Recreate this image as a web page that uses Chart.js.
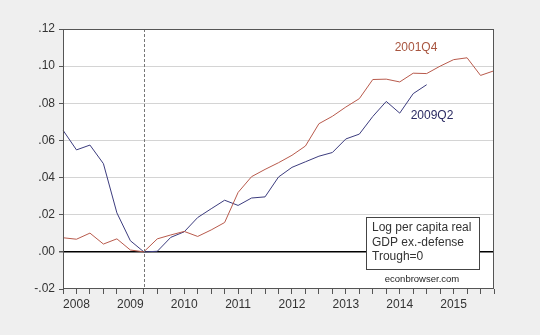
<!DOCTYPE html>
<html>
<head>
<meta charset="utf-8">
<script src="https://cdn.jsdelivr.net/npm/chart.js@4.4.0/dist/chart.umd.min.js"></script>
<style>
  html, body { margin: 0; padding: 0; background: #efefef; }
  #wrap { width: 540px; height: 335px; }
</style>
</head>
<body>
<div id="wrap"><canvas id="myChart" width="540" height="335"></canvas></div>
<script>
// quarters 2007Q4 .. 2015Q4
var quarters = [];
for (var y = 2007; y <= 2015; y++) {
  for (var q = 1; q <= 4; q++) {
    if (y == 2007 && q < 4) continue;
    quarters.push(y + 'Q' + q);
  }
}

// 2001Q4 trough-aligned series (red)
var trough2001 = [0.0076, 0.0068, 0.0101, 0.0042, 0.0070, 0.0010, 0.0000, 0.0070, 0.0091, 0.0110,
                  0.0083, 0.0118, 0.0158, 0.0320, 0.0405, 0.0444, 0.0480, 0.0520, 0.0570, 0.0690,
                  0.0730, 0.0780, 0.0825, 0.0928, 0.0930, 0.0915, 0.0962, 0.0960, 0.1000, 0.1035,
                  0.1045, 0.0950, 0.0975];

// 2009Q2 trough series (blue), ends 2014Q3
var trough2009 = [0.0655, 0.0549, 0.0575, 0.0475, 0.0210, 0.0060, 0.0000, 0.0003, 0.0078, 0.0108,
                  0.0185, 0.0232, 0.0278, 0.0250, 0.0290, 0.0296, 0.0403, 0.0455, 0.0485, 0.0515,
                  0.0535, 0.0608, 0.0634, 0.0729, 0.0810, 0.0747, 0.0852, 0.0900];

var troughQuarter = '2009Q2';
var noteLines = ['Log per capita real', 'GDP ex.-defense', 'Trough=0'];

var frame = {
  id: 'frame',
  beforeDraw: function(chart) {
    var c = chart.ctx, a = chart.chartArea;
    c.save();
    c.fillStyle = '#efefef';
    c.fillRect(0, 0, chart.width, chart.height);
    c.fillStyle = '#ffffff';
    c.fillRect(a.left, a.top, a.right - a.left, a.bottom - a.top);
    c.restore();
  },
  afterDatasetsDraw: function(chart) {
    var c = chart.ctx, a = chart.chartArea;
    var xs = chart.scales.x;
    c.save();
    // trough marker
    var px = Math.round(xs.getPixelForValue(quarters.indexOf(troughQuarter))) + 0.5;
    c.strokeStyle = '#777';
    c.lineWidth = 1;
    c.setLineDash([3, 2]);
    c.beginPath();
    c.moveTo(px, a.top);
    c.lineTo(px, a.bottom);
    c.stroke();
    c.setLineDash([]);

    // frame
    c.strokeStyle = '#555';
    c.strokeRect(Math.round(a.left) + 0.5, Math.round(a.top) + 0.5,
                 Math.round(a.right - a.left) - 1, Math.round(a.bottom - a.top) - 1);

    // series labels
    c.font = '12px "Liberation Sans", Arial, sans-serif';
    c.textAlign = 'center';
    c.textBaseline = 'middle';
    c.fillStyle = '#a8553f';
    c.fillText('2001Q4', 416, 48);
    c.fillStyle = '#2a2a62';
    c.fillText('2009Q2', 432, 116);

    // note box
    c.fillStyle = '#ffffff';
    c.fillRect(366, 217, 113, 52);
    c.strokeStyle = '#444';
    c.strokeRect(366.5, 217.5, 113, 52);
    c.fillStyle = '#333';
    c.textAlign = 'left';
    c.font = '12px "Liberation Sans", Arial, sans-serif';
    for (var i = 0; i < noteLines.length; i++) {
      c.fillText(noteLines[i], 372, 228 + i * 14.5);
    }
    c.textAlign = 'center';
    c.font = '9.5px "Liberation Sans", Arial, sans-serif';
    c.fillStyle = '#222';
    c.fillText('econbrowser.com', 422, 279);
    c.restore();
  }
};

var ctx = document.getElementById('myChart').getContext('2d');
var myChart = new Chart(ctx, {
  type: 'line',
  data: {
    labels: quarters,
    datasets: [
      { label: '2001Q4', data: trough2001, borderColor: '#b85a4c', borderWidth: 1, pointRadius: 0, tension: 0 },
      { label: '2009Q2', data: trough2009, borderColor: '#3c3c7e', borderWidth: 1, pointRadius: 0, tension: 0 }
    ]
  },
  plugins: [frame],
  options: {
    responsive: false,
    animation: false,
    layout: { padding: { top: 29, right: 46, left: 0, bottom: 0 } },
    plugins: { legend: { display: false }, tooltip: { enabled: false } },
    scales: {
      x: {
        type: 'category',
        offset: false,
        afterFit: function(s) { s.height = 46; },
        border: { display: false },
        grid: { drawOnChartArea: false, drawTicks: true, tickLength: 5, tickColor: '#555' },
        ticks: {
          autoSkip: false,
          maxRotation: 0,
          padding: 3,
          color: '#333',
          font: { family: '"Liberation Sans", Arial, sans-serif', size: 12 },
          callback: function(v, i) {
            var l = quarters[i];
            return l.slice(-2) == 'Q1' ? l.slice(0, 4) : '';
          }
        }
      },
      y: {
        min: -0.02,
        max: 0.12,
        afterFit: function(s) { s.width = 63; },
        border: { display: false },
        grid: {
          drawTicks: true,
          tickLength: 4,
          tickColor: '#555',
          color: function(c) {
            var v = c.tick ? c.tick.value : null;
            if (v === null) return 'transparent';
            if (Math.abs(v) < 1e-9) return '#000';
            if (v < -0.019 || v > 0.119) return 'transparent';
            return '#d4d4d4';
          },
          lineWidth: function(c) {
            return c.tick && Math.abs(c.tick.value) < 1e-9 ? 1.5 : 1;
          }
        },
        ticks: {
          stepSize: 0.02,
          padding: 4,
          color: '#333',
          font: { family: '"Liberation Sans", Arial, sans-serif', size: 12 },
          callback: function(v) {
            if (Math.abs(v) < 1e-9) v = 0;
            return v.toFixed(2).replace('0.', '.');
          }
        }
      }
    }
  }
});
</script>
</body>
</html>
